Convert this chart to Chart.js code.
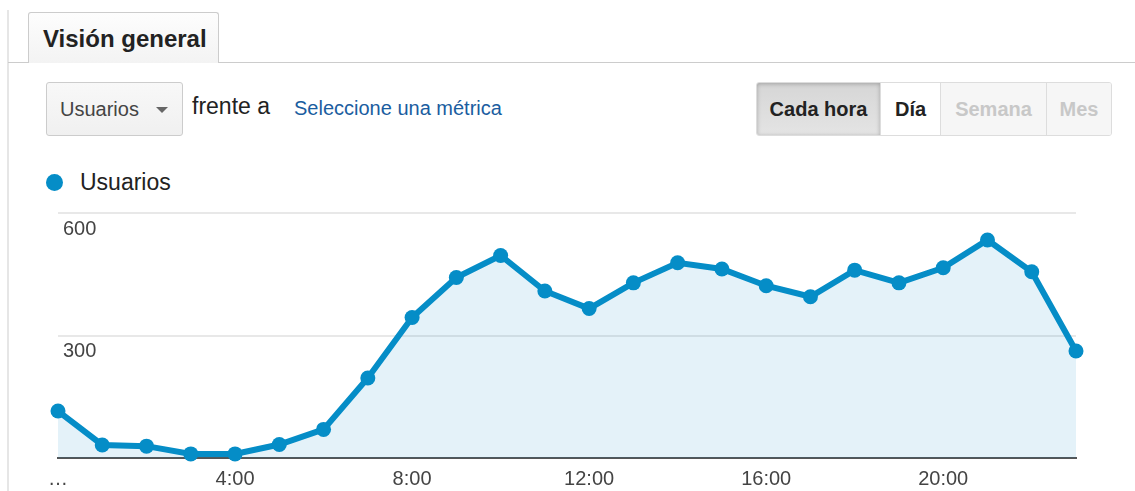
<!DOCTYPE html>
<html lang="es">
<head>
<meta charset="utf-8">
<title>Visión general</title>
<script src="https://cdn.jsdelivr.net/npm/chart.js@4/dist/chart.umd.min.js"></script>
<style>
  html, body { margin: 0; padding: 0; background: #fff; }
  body { width: 1135px; height: 491px; position: relative; overflow: hidden;
         font-family: Arial, "Liberation Sans", sans-serif; color: #222; }
  .vline { position: absolute; left: 7px; top: 10px; bottom: 0; width: 2px; background: #e6e6e6; }
  .hline { position: absolute; left: 8px; right: 0; top: 62px; height: 1px; background: #ccc; }
  .tab { position: absolute; left: 28px; top: 12px; width: 191px; height: 51px;
         border: 1px solid #ccc; border-bottom: none; border-radius: 3px 3px 0 0;
         background: linear-gradient(#fdfdfd, #f3f3f3); box-sizing: border-box;
         font-weight: bold; font-size: 24px; line-height: 52px; padding-left: 14px; color: #222; }
  .select { position: absolute; left: 46px; top: 82px; width: 137px; height: 54px; box-sizing: border-box;
            border: 1px solid #ccc; border-radius: 3px; background: linear-gradient(#f8f8f8, #f0f0f0);
            font-size: 20px; color: #444; line-height: 53px; padding-left: 13px; }
  .caret { position: absolute; left: 109px; top: 24px; width: 0; height: 0;
           border-left: 6px solid transparent; border-right: 6px solid transparent; border-top: 6px solid #666; }
  .vs { position: absolute; left: 192px; top: 95px; font-size: 23px; line-height: 1; color: #222; }
  .link { position: absolute; left: 294px; top: 98px; font-size: 20px; line-height: 1; color: #1a5da0; }
  .btns { position: absolute; left: 756px; top: 82px; height: 54px; display: flex;
          border: 1px solid #ddd; border-radius: 3px; box-sizing: border-box; overflow: hidden; }
  .btns div { height: 52px; line-height: 53px; font-size: 20px; font-weight: bold; text-align: center;
              box-sizing: border-box; border-right: 1px solid #ddd; }
  .b1 { width: 124px; background: linear-gradient(#d6d6d6, #e4e4e4); color: #222;
        box-shadow: inset 0 1px 4px rgba(0,0,0,0.25); }
  .b2 { width: 60px; background: #fff; color: #222; }
  .b3 { width: 106px; background: #f6f6f6; color: #c8c8c8; }
  .b4 { width: 64px; background: #f6f6f6; color: #c8c8c8; border-right: none !important; }
  .legend { position: absolute; left: 46px; top: 168px; font-size: 23px; color: #222; line-height: 28px; }
  .legend .dot { display: inline-block; width: 17px; height: 17px; border-radius: 50%; background: #058dc7;
                 vertical-align: -1px; margin-right: 17px; }
  .chart-box { position: absolute; left: 0; top: 190px; width: 1135px; height: 310px; }
</style>
</head>
<body>
<div class="vline"></div>
<div class="hline"></div>
<div class="tab">Visión general</div>
<div class="select">Usuarios<span class="caret"></span></div>
<div class="vs">frente a</div>
<div class="link">Seleccione una métrica</div>
<div class="btns">
  <div class="b1">Cada hora</div><div class="b2">Día</div><div class="b3">Semana</div><div class="b4">Mes</div>
</div>
<div class="legend"><span class="dot"></span>Usuarios</div>
<div class="chart-box"><canvas id="chart"></canvas></div>

<script>
// Hourly users
const hours = ['0:00', '1:00', '2:00', '3:00', '4:00', '5:00', '6:00', '7:00',
               '8:00', '9:00', '10:00', '11:00', '12:00', '13:00', '14:00', '15:00',
               '16:00', '17:00', '18:00', '19:00', '20:00', '21:00', '22:00', '23:00'];
const usuarios = [115, 32, 29, 10, 10, 33, 70, 196,
                  344, 442, 496, 409, 366, 429, 478, 463,
                  422, 395, 460, 429, 466, 534, 456, 262];
const yTicks = [0, 300, 600];
const firstLabel = '…';

const BLUE = '#058dc7';
const FONT = 'Arial, "Liberation Sans", sans-serif';

const ctx = document.getElementById('chart').getContext('2d');
new Chart(ctx, {
  type: 'line',
  data: {
    labels: hours,
    datasets: [{
      label: 'Usuarios',
      data: usuarios,
      borderColor: BLUE,
      backgroundColor: 'rgba(5, 141, 199, 0.11)',
      borderWidth: 6,
      pointRadius: 7.5,
      pointBackgroundColor: BLUE,
      pointBorderColor: BLUE,
      pointBorderWidth: 0,
      tension: 0,
      fill: 'origin',
      clip: false,
    }],
  },
  options: {
    responsive: true,
    maintainAspectRatio: false,
    animation: false,
    // mirrored y ticks still reserve 2 * padding of width, hence 48 here
    layout: { padding: { left: 48, right: 59, top: 23, bottom: 0 } },
    plugins: {
      legend: { display: false },
      tooltip: { enabled: false },
    },
    scales: {
      x: {
        offset: false,
        grid: { display: false, drawTicks: false },
        border: { display: true, color: '#555', width: 2 },
        ticks: {
          autoSkip: false,
          maxRotation: 0,
          padding: 9,
          color: '#444',
          font: { family: FONT, size: 20 },
          callback: function (value, index) {
            if (index === 0) return firstLabel;
            return index % 4 === 0 ? hours[index] : '';
          },
        },
      },
      y: {
        min: yTicks[0],
        max: yTicks[yTicks.length - 1],
        afterBuildTicks: function (scale) {
          scale.ticks = yTicks.map(v => ({ value: v }));
        },
        border: { display: false },
        grid: { color: '#e8e8e8', lineWidth: 2, drawTicks: false },
        ticks: {
          mirror: true,
          padding: 5,
          labelOffset: 16,
          color: '#444',
          font: { family: FONT, size: 20 },
          callback: v => (v === 0 ? '' : String(v)),
        },
      },
    },
  },
});
</script>
</body>
</html>
